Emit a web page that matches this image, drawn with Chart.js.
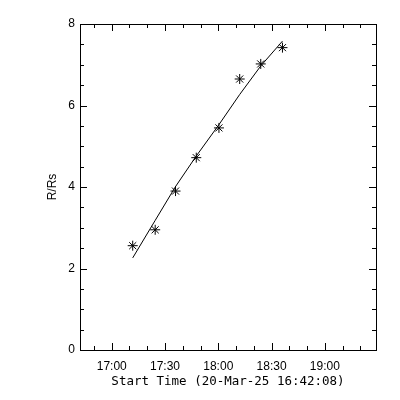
<!DOCTYPE html>
<html>
<head>
  <meta charset="UTF-8">
  <title>R/Rs vs Start Time</title>
  <script src="https://cdn.jsdelivr.net/npm/chart.js"></script>
  <style>
    body { margin: 0; padding: 0; background: #fff; }
    #plot { display: block; }
  </style>
</head>
<body>
  <canvas id="plot" width="400" height="400"></canvas>

  <script>
    // reference time of the x axis
    const startTime = '16:42:08';
    const xTitle = 'Start Time (20-Mar-25 16:42:08)';
    const yTitle = 'R/Rs';

    // measured heights
    const obsTimes = ['17:11:49', '17:24:28', '17:35:55', '17:47:36', '18:00:22', '18:12:03', '18:23:54', '18:36:08'];
    const obsRadius = [2.56, 2.95, 3.90, 4.72, 5.45, 6.65, 7.02, 7.42];
    // fitted curve at the same times
    const fitRadius = [2.26, 3.18, 4.01, 4.76, 5.53, 6.27, 6.97, 7.58];

    const xTickLabels = ['17:00', '17:30', '18:00', '18:30', '19:00'];
    const yTickLabels = [0, 2, 4, 6, 8];

    function clockToSec(t) {
      const p = t.split(':').map(Number);
      return p[0] * 3600 + p[1] * 60 + (p[2] || 0);
    }
    const t0 = clockToSec(startTime);
    const rel = t => clockToSec(t) - t0;
    function secToClock(s) {
      const tot = Math.round(s + t0);
      const h = Math.floor(tot / 3600), m = Math.floor((tot % 3600) / 60);
      return String(h).padStart(2, '0') + ':' + String(m).padStart(2, '0');
    }

    const obsPoints = obsTimes.map((t, i) => ({ x: rel(t), y: obsRadius[i] }));
    const fitPoints = obsTimes.map((t, i) => ({ x: rel(t), y: fitRadius[i] }));

    // IDL style frame with inward major/minor ticks
    const idlFrame = {
      id: 'idlFrame',
      afterDraw(chart) {
        const ctx = chart.ctx, a = chart.chartArea;
        const xs = chart.scales.x, ys = chart.scales.y;
        ctx.save();
        ctx.strokeStyle = '#000';
        ctx.lineWidth = 1;
        ctx.strokeRect(Math.round(a.left) + 0.5, Math.round(a.top) + 0.5,
          Math.round(a.right - a.left), Math.round(a.bottom - a.top));
        ctx.beginPath();
        xs.ticks.forEach(tk => {
          const x = Math.round(xs.getPixelForValue(tk.value)) + 0.5;
          const len = xTickLabels.includes(secToClock(tk.value)) ? 7 : 4;
          ctx.moveTo(x, a.bottom); ctx.lineTo(x, a.bottom - len);
          ctx.moveTo(x, a.top); ctx.lineTo(x, a.top + len);
        });
        for (let v = ys.min; v <= ys.max; v += 0.5) {
          const y = Math.round(ys.getPixelForValue(v)) + 0.5;
          const len = yTickLabels.includes(v) ? 7 : 4;
          ctx.moveTo(a.left, y); ctx.lineTo(a.left + len, y);
          ctx.moveTo(a.right, y); ctx.lineTo(a.right - len, y);
        }
        ctx.stroke();
        ctx.restore();
      }
    };

    const tickFont = { family: 'Liberation Sans', size: 12 };

    new Chart(document.getElementById('plot'), {
      type: 'scatter',
      data: {
        datasets: [
          {
            label: 'fit',
            type: 'line',
            data: fitPoints,
            borderColor: '#000',
            borderWidth: 1,
            pointRadius: 0,
            fill: false,
            tension: 0
          },
          {
            label: 'R/Rs',
            data: obsPoints,
            pointStyle: 'star',
            pointRadius: 5,
            borderColor: '#000',
            backgroundColor: '#000',
            borderWidth: 1
          }
        ]
      },
      options: {
        responsive: false,
        animation: false,
        layout: { padding: { top: 24, right: 24, left: 0, bottom: 0 } },
        plugins: { legend: { display: false }, tooltip: { enabled: false } },
        scales: {
          x: {
            type: 'linear',
            min: 0,
            max: 10000,
            grid: { display: false, drawTicks: false },
            border: { display: false },
            afterBuildTicks(scale) {
              const first = rel(xTickLabels[0]);
              const ticks = [];
              for (let t = first - 1800; t <= scale.max; t += 600) {
                if (t >= scale.min) ticks.push({ value: t });
              }
              scale.ticks = ticks;
            },
            afterFit(scale) { scale.height = 50; },
            ticks: {
              autoSkip: false,
              maxRotation: 0,
              padding: 9,
              color: '#000',
              font: tickFont,
              callback: v => {
                const c = secToClock(v);
                return xTickLabels.includes(c) ? c : '';
              }
            },
            title: {
              display: true,
              text: xTitle,
              color: '#000',
              font: { family: 'DejaVu Sans Mono', size: 12.5 },
              padding: { top: 0, bottom: 11 }
            }
          },
          y: {
            min: 0,
            max: 8,
            grid: { display: false, drawTicks: false },
            border: { display: false },
            afterBuildTicks(scale) {
              scale.ticks = yTickLabels.map(v => ({ value: v }));
            },
            afterFit(scale) { scale.width = 80; },
            ticks: {
              padding: 5,
              color: '#000',
              font: tickFont
            },
            title: {
              display: true,
              text: yTitle,
              color: '#000',
              font: tickFont,
              padding: { top: 45, bottom: 0 }
            }
          }
        }
      },
      plugins: [idlFrame]
    });
  </script>
</body>
</html>
